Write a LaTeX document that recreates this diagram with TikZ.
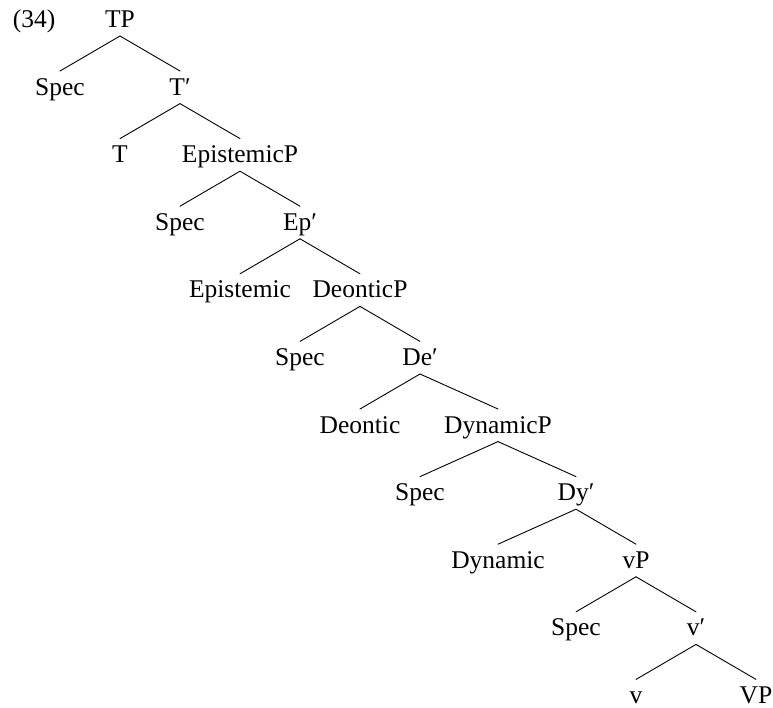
\documentclass[tikz,border=0pt]{standalone}
\usepackage{fontspec}
\setmainfont{Liberation Serif}
\usetikzlibrary{calc}
\begin{document}
\begin{tikzpicture}[x=1pt,y=-1pt,
  lab/.style={anchor=base, inner sep=0pt, font=\fontsize{25.5}{30}\selectfont},
  br/.style={line width=0.9pt, line cap=round}]
\useasboundingbox (0,0) rectangle (773,707);
% labels
\node[lab] (ex) at (34,27.5) {(34)};
\node[lab] (TP) at (120,27.5) {TP};
\node[lab] (s1) at (60,95.1) {Spec};
\node[lab] (Tb) at (180,95.1) {T′};
\node[lab] (T) at (120,162.7) {T};
\node[lab] (EpP) at (240,162.7) {EpistemicP};
\node[lab] (s2) at (180,230.3) {Spec};
\node[lab] (Epb) at (300,230.3) {Ep′};
\node[lab] (Ep) at (240,297.9) {Epistemic};
\node[lab] (DeP) at (360,297.9) {DeonticP};
\node[lab] (s3) at (300,365.5) {Spec};
\node[lab] (Deb) at (420,365.5) {De′};
\node[lab] (De) at (360,433.1) {Deontic};
\node[lab] (DyP) at (498,433.1) {DynamicP};
\node[lab] (s4) at (420,500.7) {Spec};
\node[lab] (Dyb) at (576,500.7) {Dy′};
\node[lab] (Dy) at (498,568.3) {Dynamic};
\node[lab] (vP) at (636,568.3) {vP};
\node[lab] (s5) at (576,635.9) {Spec};
\node[lab] (vb) at (696,635.9) {v′};
\node[lab] (v) at (636,703.5) {v};
\node[lab] (VP) at (756,703.5) {VP};
% branches
\foreach \p/\c in {TP/s1,TP/Tb,Tb/T,Tb/EpP,EpP/s2,EpP/Epb,Epb/Ep,Epb/DeP,
  DeP/s3,DeP/Deb,Deb/De,Deb/DyP,DyP/s4,DyP/Dyb,Dyb/Dy,Dyb/vP,vP/s5,vP/vb,vb/v,vb/VP}
  \draw[br] ($(\p.base)+(0,8.5)$) -- ($(\c.base)+(0,-24.1)$);
\end{tikzpicture}
\end{document}
